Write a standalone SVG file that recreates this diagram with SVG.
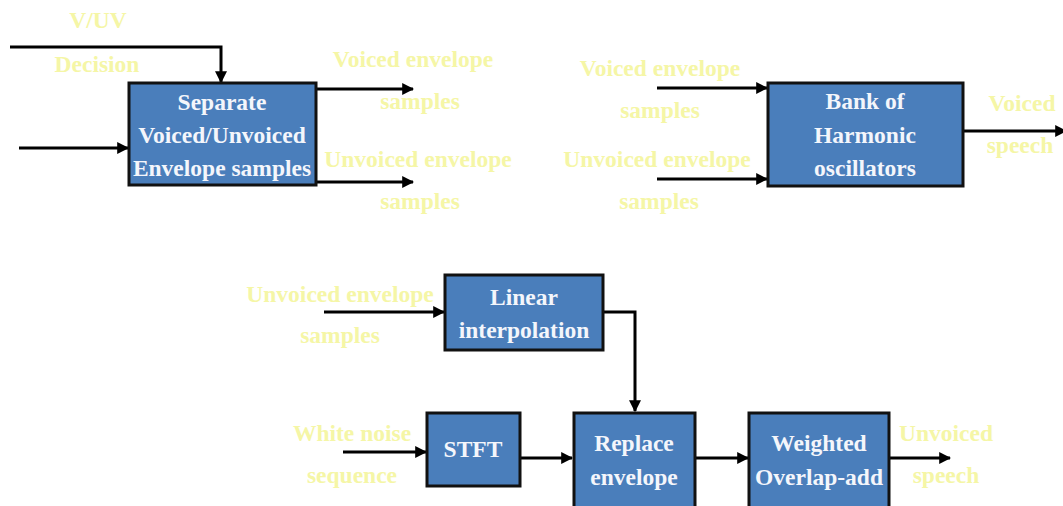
<svg xmlns="http://www.w3.org/2000/svg" width="1063" height="506" viewBox="0 0 1063 506">
  <defs>
    <marker id="arrow" viewBox="0 0 10 10" refX="9" refY="5" markerWidth="4" markerHeight="4" orient="auto" markerUnits="strokeWidth">
      <path d="M0,0 L10,5 L0,10 z" fill="#000"/>
    </marker>
    <style>
      .box { fill: #4a7ebb; stroke: #111; stroke-width: 3; }
      .bt { font-family: "Liberation Serif", serif; font-weight: bold; font-size: 23.5px; fill: #f4f6fb; text-anchor: middle; }
      .lbl { font-family: "Liberation Serif", serif; font-weight: bold; font-size: 23.5px; fill: #f5f6a6; text-anchor: middle; }
      .wire { fill: none; stroke: #000; stroke-width: 3; marker-end: url(#arrow); }
    </style>
  </defs>
  <rect width="1063" height="506" fill="#fff"/>

  <!-- labels -->
  <g id="labels">
    <text class="lbl" x="98" y="28">V/UV</text>
    <text class="lbl" x="97" y="72">Decision</text>
    <text class="lbl" x="413" y="67">Voiced envelope</text>
    <text class="lbl" x="420" y="109">samples</text>
    <text class="lbl" x="418" y="167">Unvoiced envelope</text>
    <text class="lbl" x="420" y="209">samples</text>
    <text class="lbl" x="660" y="76">Voiced envelope</text>
    <text class="lbl" x="660" y="118">samples</text>
    <text class="lbl" x="657" y="167">Unvoiced envelope</text>
    <text class="lbl" x="659" y="209">samples</text>
    <text class="lbl" x="1022" y="111">Voiced</text>
    <text class="lbl" x="1020" y="153">speech</text>
    <text class="lbl" x="340" y="302">Unvoiced envelope</text>
    <text class="lbl" x="340" y="343">samples</text>
    <text class="lbl" x="352" y="441">White noise</text>
    <text class="lbl" x="352" y="483">sequence</text>
    <text class="lbl" x="946" y="441">Unvoiced</text>
    <text class="lbl" x="946" y="483">speech</text>
  </g>

  <!-- connectors -->
  <g id="connectors">
    <path class="wire" d="M10,47 H221 V82"/>
    <path class="wire" d="M19,148 H128"/>
    <path class="wire" d="M316,89 H413"/>
    <path class="wire" d="M316,182 H413"/>
    <path class="wire" d="M657,88 H767"/>
    <path class="wire" d="M657,179 H767"/>
    <path class="wire" d="M963,131 H1066"/>
    <path class="wire" d="M324,312 H444"/>
    <path class="wire" d="M603,312 H635 V411"/>
    <path class="wire" d="M343,452 H426"/>
    <path class="wire" d="M520,458 H572"/>
    <path class="wire" d="M695,458 H748"/>
    <path class="wire" d="M889,458 H950"/>
  </g>

  <g id="separate">
    <rect class="box" x="129" y="83" width="187" height="102"/>
    <text class="bt" x="222" y="110">Separate</text>
    <text class="bt" x="222" y="143">Voiced/Unvoiced</text>
    <text class="bt" x="222" y="176">Envelope samples</text>
  </g>

  <g id="harmonic">
    <rect class="box" x="768" y="83" width="195" height="103"/>
    <text class="bt" x="865" y="109">Bank of</text>
    <text class="bt" x="865" y="143">Harmonic</text>
    <text class="bt" x="865" y="176">oscillators</text>
  </g>

  <g id="linear">
    <rect class="box" x="445" y="275" width="158" height="75"/>
    <text class="bt" x="524" y="305">Linear</text>
    <text class="bt" x="524" y="338">interpolation</text>
  </g>

  <g id="stft">
    <rect class="box" x="427" y="413" width="93" height="73"/>
    <text class="bt" x="473" y="457">STFT</text>
  </g>

  <g id="replace">
    <rect class="box" x="574" y="413" width="121" height="100"/>
    <text class="bt" x="634" y="451">Replace</text>
    <text class="bt" x="634" y="485">envelope</text>
  </g>

  <g id="overlap">
    <rect class="box" x="749" y="413" width="140" height="100"/>
    <text class="bt" x="819" y="451">Weighted</text>
    <text class="bt" x="819" y="485">Overlap-add</text>
  </g>
</svg>
